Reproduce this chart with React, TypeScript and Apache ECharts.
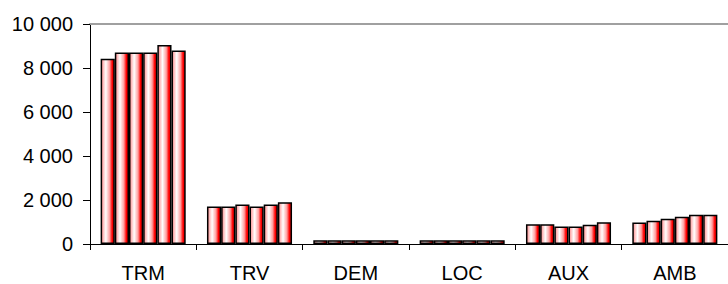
import React, { useEffect, useRef } from "react";
import * as echarts from "echarts";

const categories = ["TRM", "TRV", "DEM", "LOC", "AUX", "AMB"];
const seriesNames = ["S1", "S2", "S3", "S4", "S5", "S6"];
const s1 = [8420, 1700, 170, 170, 900, 980];
const s2 = [8700, 1700, 170, 170, 900, 1060];
const s3 = [8700, 1800, 170, 170, 800, 1150];
const s4 = [8700, 1700, 170, 170, 800, 1240];
const s5 = [9050, 1800, 170, 170, 880, 1330];
const s6 = [8800, 1900, 170, 170, 990, 1330];
const seriesValues = [s1, s2, s3, s4, s5, s6];
const yMin = 0;
const yMax = 10000;
const yInterval = 2000;

const fmt = (v: number) => {
  const s = String(Math.round(v));
  return s.replace(/\B(?=(\d{3})+(?!\d))/g, " ");
};

export default function App() {
  const ref = useRef<HTMLDivElement>(null);
  useEffect(() => {
    if (!ref.current) return;
    const chart = echarts.init(ref.current, undefined, { renderer: "svg" });
    const fill = new echarts.graphic.LinearGradient(0, 0, 1, 0, [
      { offset: 0, color: "#ff8c8c" },
      { offset: 0.35, color: "#ffffff" },
      { offset: 0.65, color: "#ffa0a0" },
      { offset: 0.85, color: "#ff0000" },
      { offset: 1, color: "#e00000" },
    ]);
    chart.setOption({
      animation: false,
      textStyle: { fontFamily: "Liberation Sans, Arial, sans-serif" },
      grid: { left: 90, right: 0, top: 24, bottom: 40, containLabel: false },
      xAxis: [
        {
          type: "category",
          data: categories,
          axisLine: { show: true, lineStyle: { color: "#000", width: 1 } },
          axisTick: { show: true, alignWithLabel: false, length: 6, lineStyle: { color: "#000" } },
          axisLabel: { color: "#000", fontSize: 20, margin: 19 },
        },
        {
          type: "category",
          data: categories,
          position: "top",
          axisLine: { show: true, lineStyle: { color: "#a0a0a0", width: 2 } },
          axisTick: { show: false },
          axisLabel: { show: false },
        },
      ],
      yAxis: {
        type: "value",
        min: yMin,
        max: yMax,
        interval: yInterval,
        axisLine: { show: true, lineStyle: { color: "#000", width: 1 } },
        axisTick: { show: true, length: 7, lineStyle: { color: "#000" } },
        splitLine: { show: false },
        axisLabel: { color: "#000", fontSize: 20, margin: 17, formatter: fmt },
      },
      series: seriesValues.map((vals, i) => ({
        name: seriesNames[i],
        type: "bar",
        data: vals,
        barGap: "0%",
        barCategoryGap: "20%",
        itemStyle: { color: fill, borderColor: "#000", borderWidth: 1.5 },
      })),
    });
    return () => chart.dispose();
  }, []);
  return <div ref={ref} style={{ width: 728, height: 284, position: "absolute", left: 0, top: 0 }} />;
}
